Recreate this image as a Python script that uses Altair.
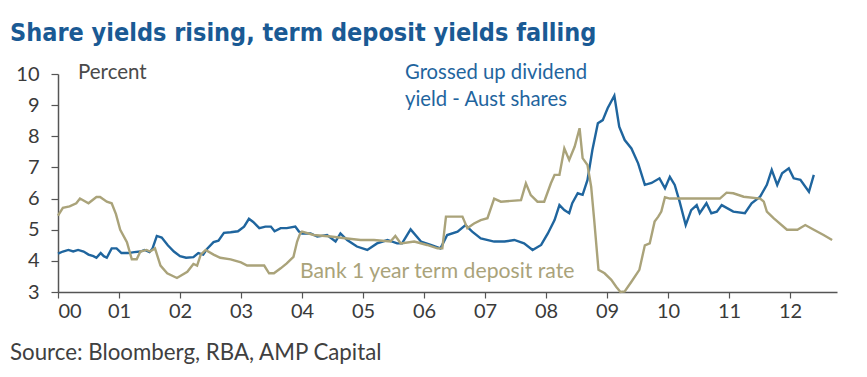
import altair as alt
import pandas as pd

# Grossed up dividend yield - Aust shares (time in years since 2000, percent)
blue_t = [0.0, 0.08, 0.17, 0.25, 0.33, 0.42, 0.5, 0.58, 0.63, 0.7, 0.75, 0.8, 0.88, 0.96,
          1.04, 1.15, 1.25, 1.35, 1.42, 1.5, 1.55, 1.62, 1.7, 1.8, 1.9, 2.0, 2.1, 2.22,
          2.3, 2.38, 2.45, 2.55, 2.63, 2.72, 2.83, 2.95, 3.05, 3.13, 3.2, 3.3, 3.4, 3.49,
          3.55, 3.65, 3.75, 3.89, 3.95, 4.0, 4.14, 4.25, 4.41, 4.55, 4.63, 4.74, 4.9,
          5.07, 5.23, 5.4, 5.56, 5.64, 5.78, 5.95, 6.11, 6.27, 6.38, 6.55, 6.68, 6.79,
          6.93, 7.15, 7.32, 7.48, 7.64, 7.78, 7.92, 8.03, 8.14, 8.22, 8.3, 8.38, 8.43,
          8.52, 8.6, 8.68, 8.76, 8.85, 8.93, 9.01, 9.12, 9.2, 9.29, 9.4, 9.51, 9.62,
          9.73, 9.86, 9.95, 10.03, 10.11, 10.19, 10.29, 10.38, 10.47, 10.52, 10.63,
          10.71, 10.8, 10.88, 11.07, 11.26, 11.37, 11.51, 11.62, 11.7, 11.79, 11.87,
          11.98, 12.06, 12.17, 12.31, 12.39]
blue_v = [4.23, 4.3, 4.35, 4.3, 4.35, 4.3, 4.2, 4.15, 4.1, 4.25, 4.15, 4.1, 4.4, 4.4,
          4.25, 4.25, 4.28, 4.3, 4.35, 4.28, 4.4, 4.8, 4.75, 4.5, 4.3, 4.15, 4.1, 4.12,
          4.25, 4.2, 4.4, 4.6, 4.65, 4.9, 4.92, 4.95, 5.1, 5.35, 5.25, 5.05, 5.1, 5.1,
          4.95, 5.05, 5.05, 5.1, 4.94, 4.88, 4.88, 4.78, 4.83, 4.62, 4.88, 4.67, 4.46,
          4.35, 4.56, 4.67, 4.56, 4.56, 5.01, 4.62, 4.51, 4.4, 4.83, 4.94, 5.15, 4.94,
          4.72, 4.62, 4.62, 4.67, 4.56, 4.35, 4.51, 4.88, 5.31, 5.79, 5.63, 5.53, 5.85,
          6.17, 6.12, 6.6, 7.56, 8.42, 8.52, 8.9, 9.3, 8.31, 7.88, 7.61, 7.13, 6.44,
          6.5, 6.65, 6.33, 6.7, 6.44, 5.9, 5.15, 5.63, 5.79, 5.53, 5.85,
          5.53, 5.58, 5.79, 5.58, 5.53, 5.85, 6.06, 6.44, 6.92, 6.44, 6.81,
          6.97, 6.65, 6.6, 6.22, 6.76]

# Bank 1 year term deposit rate
tan_t = [0.0, 0.08, 0.19, 0.3, 0.36, 0.5, 0.63, 0.69, 0.8, 0.88, 0.95, 1.02, 1.13, 1.21,
         1.29, 1.35, 1.45, 1.51, 1.59, 1.68, 1.79, 1.95, 2.12, 2.22, 2.28, 2.34, 2.42,
         2.55, 2.66, 2.83, 3.0, 3.1, 3.38, 3.46, 3.54, 3.65, 3.75, 3.86, 3.92, 3.97, 4.0,
         4.19, 4.47, 4.74, 4.96, 5.18, 5.45, 5.53, 5.62, 5.84, 6.05, 6.22, 6.3, 6.36,
         6.44, 6.63, 6.71, 6.82, 6.93, 7.04, 7.15, 7.26, 7.59, 7.67, 7.75, 7.86, 7.97,
         8.08, 8.14, 8.22, 8.3, 8.38, 8.47, 8.55, 8.6, 8.68, 8.74, 8.79, 8.86, 8.96,
         9.07, 9.15, 9.22, 9.29, 9.4, 9.53, 9.62, 9.7, 9.78, 9.84, 9.89, 9.95, 10.03,
         10.41, 10.85, 10.96, 11.07, 11.24, 11.51, 11.57, 11.62, 11.73, 11.95, 12.12,
         12.25, 12.39, 12.55, 12.69]
tan_v = [5.45, 5.7, 5.75, 5.85, 6.0, 5.85, 6.05, 6.05, 5.9, 5.85, 5.5, 5.0, 4.6, 4.05,
         4.05, 4.3, 4.35, 4.3, 4.4, 3.85, 3.6, 3.45, 3.65, 3.9, 3.85, 4.2, 4.35,
         4.2, 4.1, 4.05, 3.95, 3.85, 3.85, 3.6, 3.6, 3.76, 3.92, 4.13, 4.62, 4.88, 4.94,
         4.83, 4.78, 4.72, 4.67, 4.67, 4.62, 4.8, 4.56, 4.62, 4.51, 4.4, 4.4, 5.42,
         5.42, 5.42, 5.05, 5.2, 5.31, 5.37, 6.0, 5.9, 5.95, 6.49, 6.11, 5.9, 5.9,
         6.49, 6.76, 6.76, 7.61, 7.24, 7.67, 8.26, 7.3, 7.08, 6.38, 5.31, 3.71, 3.6,
         3.39, 3.17, 3.0, 3.02, 3.33, 3.71, 4.5, 4.56, 5.26, 5.42, 5.58, 6.04, 6.0,
         6.0, 6.0, 6.19, 6.17, 6.06, 6.0, 5.9, 5.58, 5.37, 5.0, 5.0,
         5.15, 5.0, 4.83, 4.67]

x_ticks = list(range(0, 13))
y_ticks = list(range(3, 11))

title_text = "Share yields rising, term deposit yields falling"
source_text = "Source: Bloomberg, RBA, AMP Capital"
unit_text = "Percent"
blue_label = ["Grossed up dividend", "yield - Aust shares"]
tan_label = "Bank 1 year term deposit rate"

BLUE = "#1f659e"
TAN = "#aaa37a"
TXT = "Lato"

df = pd.concat([
    pd.DataFrame({"t": blue_t, "v": blue_v, "s": "blue"}),
    pd.DataFrame({"t": tan_t, "v": tan_v, "s": "tan"}),
])

x_enc = alt.X("t:Q", scale=alt.Scale(domain=[0, 12.77], nice=False, zero=False),
              axis=alt.Axis(values=x_ticks, title=None,
                            labelExpr="datum.value < 10 ? '0' + datum.value : '' + datum.value"))
y_enc = alt.Y("v:Q", scale=alt.Scale(domain=[3, 10], nice=False, zero=False),
              axis=alt.Axis(values=y_ticks, title=None))

lines = alt.Chart(df).mark_line(strokeWidth=2.4).encode(
    x=x_enc, y=y_enc,
    color=alt.Color("s:N", scale=alt.Scale(domain=["blue", "tan"], range=[BLUE, TAN]), legend=None),
    detail="s:N",
)

def txt(text, x, y, color, size, font=TXT, weight="normal"):
    return alt.Chart(pd.DataFrame({"label": [text]})).mark_text(
        align="left", baseline="middle", font=font, fontSize=size, color=color, fontWeight=weight
    ).encode(text="label:N", x=alt.value(x), y=alt.value(y))

title = txt(title_text, -48, -41, "#1a5a94", 25,
            font="Liberation Sans Narrow, DejaVu Sans Condensed, Lato", weight="bold")
percent = txt(unit_text, 20, -1, "#4a4a4a", 20.5)
g1 = txt(blue_label[0], 347, -1, BLUE, 20.3)
g2 = txt(blue_label[1], 347, 26, BLUE, 20.3)
bank = txt(tan_label, 242, 198, TAN, 21.2)
source = txt(source_text, -48, 279, "#404040", 22.3)

chart = alt.layer(lines, title, percent, g1, g2, bank, source).properties(
    width=779, height=218,
    autosize=alt.AutoSizeParams(type="none"),
    padding={"left": 58, "top": 74, "right": 30, "bottom": 85},
    background="white",
).configure_view(stroke=None).configure_axis(
    grid=False, domainColor="#555555", domainWidth=1.5, tickColor="#555555", tickWidth=1.2,
    tickSize=6, labelColor="#3a3a3a", labelFont=TXT, labelFontSize=20, labelPadding=3,
).configure_axisY(labelPadding=12, tickSize=7)

chart.save("out.html", embed_options={"renderer": "svg", "actions": False})
